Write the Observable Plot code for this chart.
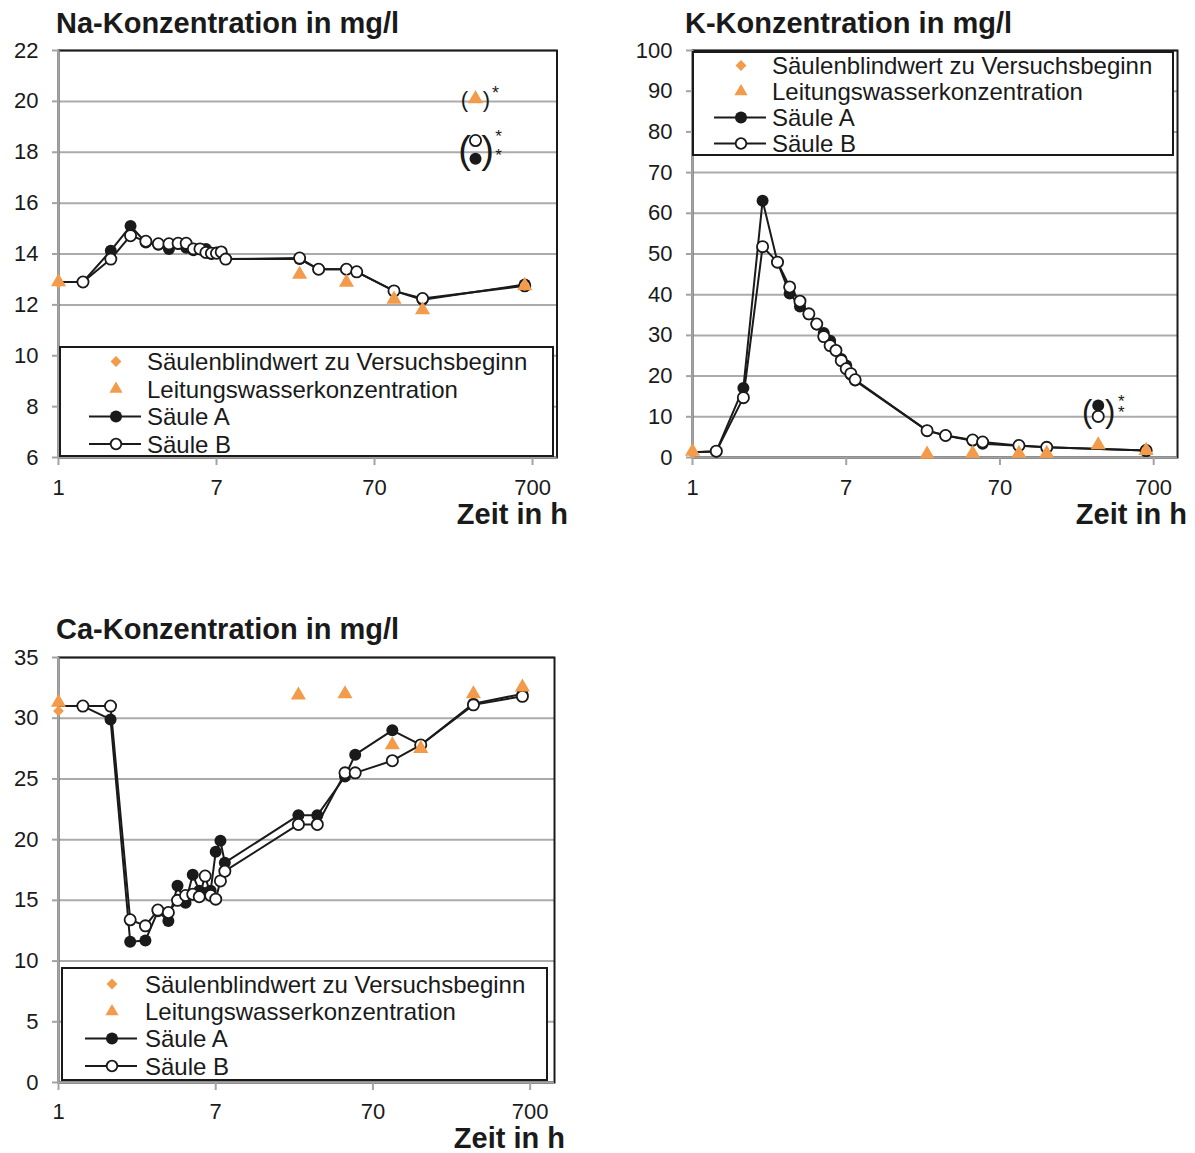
<!DOCTYPE html>
<html><head><meta charset="utf-8">
<script src="https://cdn.jsdelivr.net/npm/d3@7"></script>
<script src="https://cdn.jsdelivr.net/npm/@observablehq/plot@0.6"></script>
<style>
body{margin:0;background:#fff;}
#root{position:relative;width:1195px;height:1153px;overflow:hidden;background:#fff;font-family:"Liberation Sans",Arial,sans-serif;}
.panel{position:absolute;}
#overlay{position:absolute;left:0;top:0;pointer-events:none;}
</style></head><body><div id="root"></div>
<script>
// ---------- data ----------
const times = [0.7, 1, 1.5, 2, 2.5, 3, 3.5, 4, 4.5, 5, 5.5, 6, 6.5, 7, 7.5, 8, 23.5, 31, 46.5, 54, 93, 141, 305, 625];
const xTickValues = [0.7, 7, 70, 700];
const xTickLabels = ["1", "7", "70", "700"];
const legendLabels = ["Säulenblindwert zu Versuchsbeginn", "Leitungswasserkonzentration", "Säule A", "Säule B"];
const titles = ["Na-Konzentration in mg/l", "K-Konzentration in mg/l", "Ca-Konzentration in mg/l"];
const xAxisLabel = "Zeit in h";

// Na
const naYTicks = [6, 8, 10, 12, 14, 16, 18, 20, 22];
const naA = [12.9, 12.9, 14.13, 15.1, 14.45, 14.36, 14.2, 14.39, 14.25, 14.15, 14.2, 14.2, 14.0, 14.06, 14.06, 13.8, 13.8, 13.4, 13.4, 13.3, 12.55, 12.2, null, 12.8];
const naB = [12.9, 12.9, 13.8, 14.72, 14.5, 14.4, 14.4, 14.42, 14.42, 14.2, 14.2, 14.06, 14.03, 14.03, 14.08, 13.8, 13.84, 13.4, 13.4, 13.3, 12.55, 12.25, null, 12.75];
const naTapT = [0.7, 23.5, 46.5, 93, 141, 625];
const naTapV = [12.9, 13.2, 12.88, 12.22, 11.8, 12.75];
const naBlankT = [0.7];
const naBlankV = [12.85];
const naStarT = [305];
const naStarA = [17.74];
const naStarB = [18.46];
const naStarTap = [20.1];

// K
const kYTicks = [0, 10, 20, 30, 40, 50, 60, 70, 80, 90, 100];
const kA = [1.3, 1.5, 17.1, 63.1, 48.0, 40.3, 37.1, 35.2, 32.7, 30.6, 28.7, 26.3, 24.2, 22.6, 20.3, 18.9, 6.6, 5.4, 4.1, 3.4, 2.9, 2.5, null, 1.7];
const kB = [1.3, 1.55, 14.7, 51.8, 48.0, 41.9, 38.4, 35.3, 32.8, 29.7, 27.5, 26.3, 23.8, 21.8, 20.6, 19.1, 6.6, 5.4, 4.3, 3.8, 2.95, 2.5, null, 1.7];
const kTapT = [0.7, 23.5, 46.5, 93, 141, 305, 625];
const kTapV = [1.5, 0.8, 1.0, 1.0, 1.0, 3.1, 1.7];
const kBlankT = [0.7];
const kBlankV = [1.0];
const kStarT = [305];
const kStarA = [12.8];
const kStarB = [10.1];

// Ca
const caYTicks = [0, 5, 10, 15, 20, 25, 30, 35];
const caA = [31.0, 31.0, 29.9, 11.6, 11.7, 14.1, 13.3, 16.2, 14.8, 17.1, 15.8, 15.6, 15.8, 19.0, 19.9, 18.1, 22.0, 22.0, 25.2, 27.0, 29.0, 27.8, 31.2, 32.0];
const caB = [31.0, 31.0, 31.0, 13.4, 12.9, 14.2, 14.0, 15.0, 15.4, 15.5, 15.3, 17.0, 15.4, 15.1, 16.6, 17.4, 21.25, 21.25, 25.5, 25.5, 26.5, 27.8, 31.1, 31.8];
const caTapT = [0.7, 23.5, 46.5, 93, 141, 305, 625];
const caTapV = [31.3, 31.9, 32.0, 27.8, 27.5, 32.0, 32.55];
const caBlankT = [0.7];
const caBlankV = [30.6];

// ---------- styles ----------
const ORANGE = "#F39A4B";
const GRID = "#ababab";
const AXIS = "#a3a3a3";
const INK = "#1a1a1a";
const FONT = "'Liberation Sans', Arial, sans-serif";

const pairs = (ts, vs) => ts.map((t, i) => ({t, v: vs[i]})).filter(d => d.v != null);
const xTickData = xTickValues.map((v, i) => ({v, label: xTickLabels[i]}));
const root = document.getElementById("root");

function starMarks(cfg, starTap, starA, starB) {
  const marks = [];
  if (starA.length) {
    // the two column outliers share one pair of brackets
    const mid = starA.map((d, i) => ({t: d.t, v: (d.v + starB[i].v) / 2}));
    const m = cfg.merge;
    marks.push(
      Plot.text(mid, {x: "t", y: "v", text: () => "(", dx: -11, dy: 1, fontSize: m.fs, fill: INK}),
      Plot.text(mid, {x: "t", y: "v", text: () => ")", dx: 12, dy: 1, fontSize: m.fs, fill: INK}),
      Plot.text(mid, {x: "t", y: "v", text: () => "*\n*", dx: 23, dy: m.sdy, fontSize: 17, lineHeight: m.lh, fill: INK})
    );
  }
  marks.push(
    Plot.text(starTap, {x: "t", y: "v", text: () => "(", dx: -11, dy: 1, fontSize: 22, fill: INK}),
    Plot.text(starTap, {x: "t", y: "v", text: () => ")", dx: 11, dy: 1, fontSize: 22, fill: INK}),
    Plot.text(starTap, {x: "t", y: "v", text: () => "*", dx: 20, dy: -6, fontSize: 18, fill: INK})
  );
  return marks;
}

function makePanel(cfg) {
  const A = pairs(times, cfg.A), B = pairs(times, cfg.B);
  const Adots = A.filter(d => d.t > 0.7), Bdots = B.filter(d => d.t > 0.7);
  const tap = pairs(cfg.tapT, cfg.tapV), blank = pairs(cfg.blankT, cfg.blankV);
  const starA = cfg.starT ? pairs(cfg.starT, cfg.starA) : [];
  const starB = cfg.starT ? pairs(cfg.starT, cfg.starB) : [];
  const starTap = cfg.starTap ? pairs(cfg.starT, cfg.starTap) : [];
  const plot = Plot.plot({
    width: cfg.width, height: cfg.height,
    marginLeft: cfg.ml, marginRight: cfg.mr, marginTop: cfg.mt, marginBottom: cfg.mb,
    style: {fontFamily: FONT, background: "transparent", overflow: "visible"},
    x: {type: "log", domain: [0.7, 1000]},
    y: {domain: cfg.yDomain},
    marks: [
      Plot.gridY(cfg.yTicks, {stroke: GRID, strokeOpacity: 1, strokeWidth: 2}),
      Plot.frame({stroke: INK, strokeWidth: 2}),
      Plot.ruleX([0.7], {stroke: AXIS, strokeWidth: 2}),
      Plot.ruleY([cfg.yDomain[0]], {stroke: AXIS, strokeWidth: 2}),
      Plot.axisX({ticks: xTickValues, tickSize: 8, stroke: AXIS, strokeWidth: 2, text: null, label: null}),
      Plot.text(xTickData, {x: "v", frameAnchor: "bottom", text: "label", dy: cfg.xLabelDy, fontSize: 22, fill: INK}),
      Plot.axisY({ticks: cfg.yTicks, tickSize: 6, tickPadding: 14, stroke: AXIS, strokeWidth: 2, fill: INK, fontSize: 22, label: null}),
      Plot.line(A, {x: "t", y: "v", stroke: INK, strokeWidth: 2}),
      Plot.dot(Adots, {x: "t", y: "v", r: 6, fill: INK}),
      Plot.line(B, {x: "t", y: "v", stroke: INK, strokeWidth: 2}),
      Plot.dot(Bdots, {x: "t", y: "v", r: 5.6, fill: "white", stroke: INK, strokeWidth: 1.8}),
      Plot.dot(blank, {x: "t", y: "v", symbol: "diamond2", r: 4.8, fill: ORANGE}),
      Plot.dot(tap, {x: "t", y: "v", symbol: "triangle", r: 5.6, fill: ORANGE}),
      Plot.dot(starTap, {x: "t", y: "v", symbol: "triangle", r: 5.6, fill: ORANGE}),
      Plot.dot(starA, {x: "t", y: "v", r: 6, fill: INK}),
      Plot.dot(starB, {x: "t", y: "v", r: 5.6, fill: "white", stroke: INK, strokeWidth: 1.8}),
      ...starMarks(cfg, starTap, starA, starB)
    ]
  });
  const div = document.createElement("div");
  div.className = "panel";
  div.style.left = cfg.left + "px";
  div.style.top = cfg.top + "px";
  div.appendChild(plot);
  root.appendChild(div);
}

makePanel({left: 0, top: 0, width: 600, height: 540, ml: 58, mr: 43.5, mt: 50, mb: 83, xLabelDy: 37,
  yDomain: [6, 22], yTicks: naYTicks, A: naA, B: naB, tapT: naTapT, tapV: naTapV, blankT: naBlankT, blankV: naBlankV,
  starT: naStarT, starA: naStarA, starB: naStarB, starTap: naStarTap, merge: {fs: 38, lh: 1.1, sdy: -4}});
makePanel({left: 630, top: 0, width: 565, height: 540, ml: 62, mr: 18, mt: 50, mb: 83, xLabelDy: 37,
  yDomain: [0, 100], yTicks: kYTicks, A: kA, B: kB, tapT: kTapT, tapV: kTapV, blankT: kBlankT, blankV: kBlankV,
  starT: kStarT, starA: kStarA, starB: kStarB, merge: {fs: 31, lh: 0.62, sdy: -2}});
makePanel({left: 0, top: 600, width: 600, height: 553, ml: 58, mr: 46, mt: 57, mb: 71, xLabelDy: 36,
  yDomain: [0, 35], yTicks: caYTicks, A: caA, B: caB, tapT: caTapT, tapV: caTapV, blankT: caBlankT, blankV: caBlankV});

// ---------- overlay: titles, axis labels, legends ----------
const svg = d3.select(root).append("svg").attr("id", "overlay").attr("width", 1195).attr("height", 1153)
  .style("font-family", FONT);
const titlePos = [[56, 33], [685, 33], [56, 639]];
titles.forEach((t, i) => svg.append("text").attr("x", titlePos[i][0]).attr("y", titlePos[i][1])
  .attr("font-size", 29).attr("font-weight", "bold").attr("fill", INK).text(t));
const zeitPos = [[568, 524], [1187, 524], [565, 1148]];
zeitPos.forEach(p => svg.append("text").attr("x", p[0]).attr("y", p[1]).attr("text-anchor", "end")
  .attr("font-size", 29).attr("font-weight", "bold").attr("fill", INK).text(xAxisLabel));

const legends = [
  {x0: 60, y0: 347, x1: 553, y1: 456, sx: 116, tx: 147, rows: [361.5, 389, 416.5, 444]},
  {x0: 693, y0: 52, x1: 1173, y1: 155, sx: 741, tx: 772, rows: [65.5, 91.5, 117.5, 143.5]},
  {x0: 62, y0: 968, x1: 547, y1: 1080, sx: 112, tx: 145, rows: [984, 1011.5, 1038.5, 1066]}
];
legends.forEach(L => {
  const g = svg.append("g");
  g.append("rect").attr("x", L.x0).attr("y", L.y0).attr("width", L.x1 - L.x0).attr("height", L.y1 - L.y0)
    .attr("fill", "white").attr("stroke", INK).attr("stroke-width", 2);
  legendLabels.forEach((lab, i) => {
    const y = L.rows[i];
    if (i === 0) {
      g.append("path").attr("d", d3.symbol(d3.symbolDiamond2, 75)()).attr("transform", `translate(${L.sx},${y})`).attr("fill", ORANGE);
    } else if (i === 1) {
      g.append("path").attr("d", d3.symbol(d3.symbolTriangle, 75)()).attr("transform", `translate(${L.sx},${y})`).attr("fill", ORANGE);
    } else {
      g.append("line").attr("x1", L.sx - 27).attr("x2", L.sx + 25).attr("y1", y).attr("y2", y).attr("stroke", INK).attr("stroke-width", 2);
      if (i === 2) g.append("circle").attr("cx", L.sx).attr("cy", y).attr("r", 6).attr("fill", INK);
      else g.append("circle").attr("cx", L.sx).attr("cy", y).attr("r", 5.3).attr("fill", "white").attr("stroke", INK).attr("stroke-width", 1.8);
    }
    g.append("text").attr("x", L.tx).attr("y", y).attr("dy", "0.36em").attr("font-size", 24).attr("fill", INK).text(lab);
  });
});
</script></body></html>
